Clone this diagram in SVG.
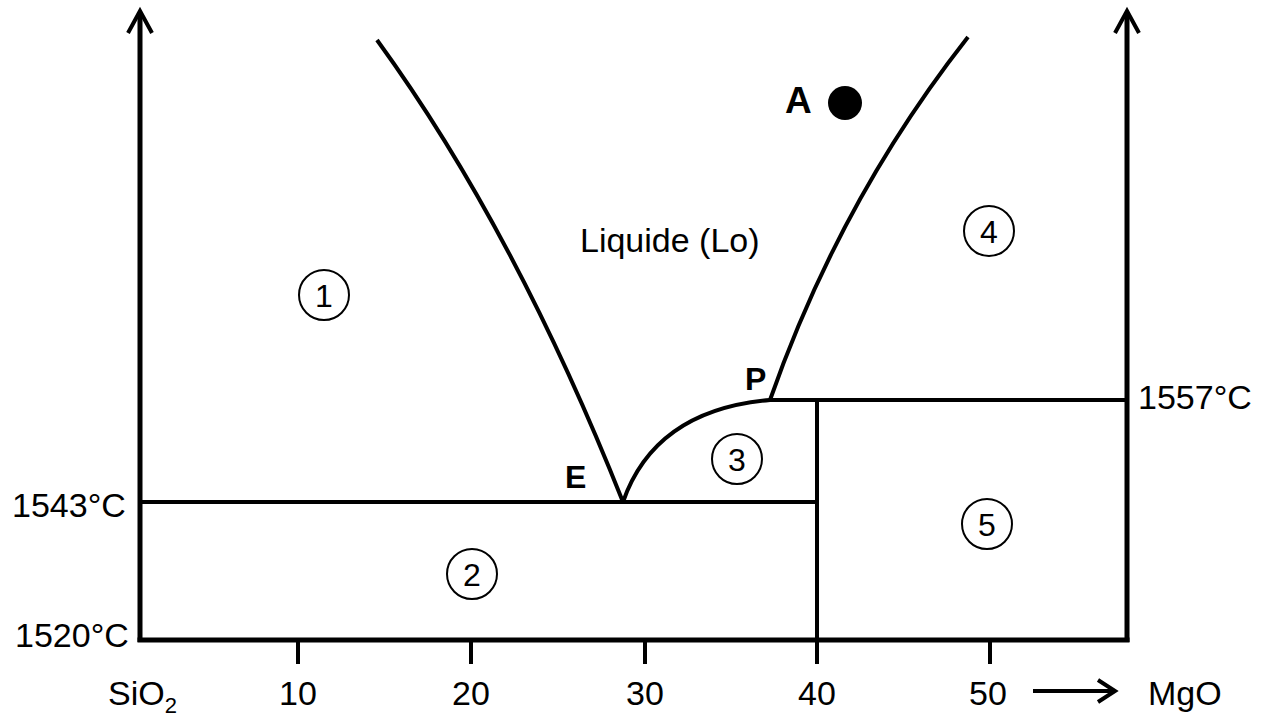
<svg xmlns="http://www.w3.org/2000/svg" width="1264" height="717" viewBox="0 0 1264 717">
<style>
.ln{fill:none;stroke:#000;stroke-width:4;stroke-linecap:butt}
.ax{fill:none;stroke:#000;stroke-width:5}
.ah{fill:none;stroke:#000;stroke-width:4;stroke-linejoin:miter}
.t{font-family:"Liberation Sans",Arial,sans-serif;font-size:34px;fill:#000}
.b{font-family:"Liberation Sans",Arial,sans-serif;font-weight:bold;fill:#000}
.c{fill:#fff;stroke:#000;stroke-width:2}
.n{font-family:"Liberation Sans",Arial,sans-serif;font-size:32px;fill:#000;text-anchor:middle}
.m{text-anchor:middle}
</style>
<rect width="1264" height="717" fill="#fff"/>
<g id="connectors">
  <line class="ax" x1="140" y1="12" x2="140" y2="642"/>
  <polyline class="ah" points="128,33 140,11 152,33"/>
  <line class="ax" x1="1127" y1="12" x2="1127" y2="642"/>
  <polyline class="ah" points="1115,33 1127,11 1139,33"/>
  <line class="ax" x1="137.5" y1="640" x2="1129.5" y2="640"/>
  <line class="ln" x1="140" y1="502" x2="817" y2="502"/>
  <line class="ln" x1="817" y1="400" x2="817" y2="640"/>
  <line class="ln" x1="770" y1="400" x2="1127" y2="400"/>
  <path class="ln" d="M377,40 Q515,230 623,502"/>
  <path class="ln" d="M623,502 Q655,410 770,400"/>
  <path class="ln" d="M770,400 Q840,200 968,37"/>
  <g class="ln">
    <line x1="298" y1="642" x2="298" y2="664"/>
    <line x1="471" y1="642" x2="471" y2="664"/>
    <line x1="645" y1="642" x2="645" y2="664"/>
    <line x1="817" y1="642" x2="817" y2="664"/>
    <line x1="990" y1="642" x2="990" y2="664"/>
  </g>
  <line class="ln" x1="1033" y1="691" x2="1113" y2="691"/>
  <polyline class="ah" points="1098,680 1115,691 1098,702"/>
</g>
<g id="axis-labels">
  <text class="t" x="12" y="517">1543°C</text>
  <text class="t" x="15" y="647">1520°C</text>
  <text class="t" x="1138" y="409">1557°C</text>
  <text class="t" x="108" y="705">SiO<tspan font-size="22" dy="8">2</tspan></text>
  <text class="t m" x="298" y="705">10</text>
  <text class="t m" x="471" y="705">20</text>
  <text class="t m" x="645" y="705">30</text>
  <text class="t m" x="817" y="705">40</text>
  <text class="t m" x="988" y="705">50</text>
  <text class="t" x="1148" y="705">MgO</text>
</g>
<g id="liquide"><text class="t" x="580" y="252">Liquide (Lo)</text></g>
<g id="pointA">
  <text class="b" x="785" y="113" font-size="37">A</text>
  <circle cx="845" cy="103" r="17" fill="#000"/>
</g>
<g id="pointE"><text class="b" x="565" y="488" font-size="32">E</text></g>
<g id="pointP"><text class="b" x="745" y="390" font-size="32">P</text></g>
<g id="region1"><circle class="c" cx="324" cy="295" r="25"/><text class="n" x="324" y="307">1</text></g>
<g id="region2"><circle class="c" cx="472" cy="574" r="25"/><text class="n" x="472" y="586">2</text></g>
<g id="region3"><circle class="c" cx="737" cy="459" r="25"/><text class="n" x="737" y="471">3</text></g>
<g id="region4"><circle class="c" cx="989" cy="231" r="25"/><text class="n" x="989" y="243">4</text></g>
<g id="region5"><circle class="c" cx="987" cy="524" r="25"/><text class="n" x="987" y="536">5</text></g>
</svg>
